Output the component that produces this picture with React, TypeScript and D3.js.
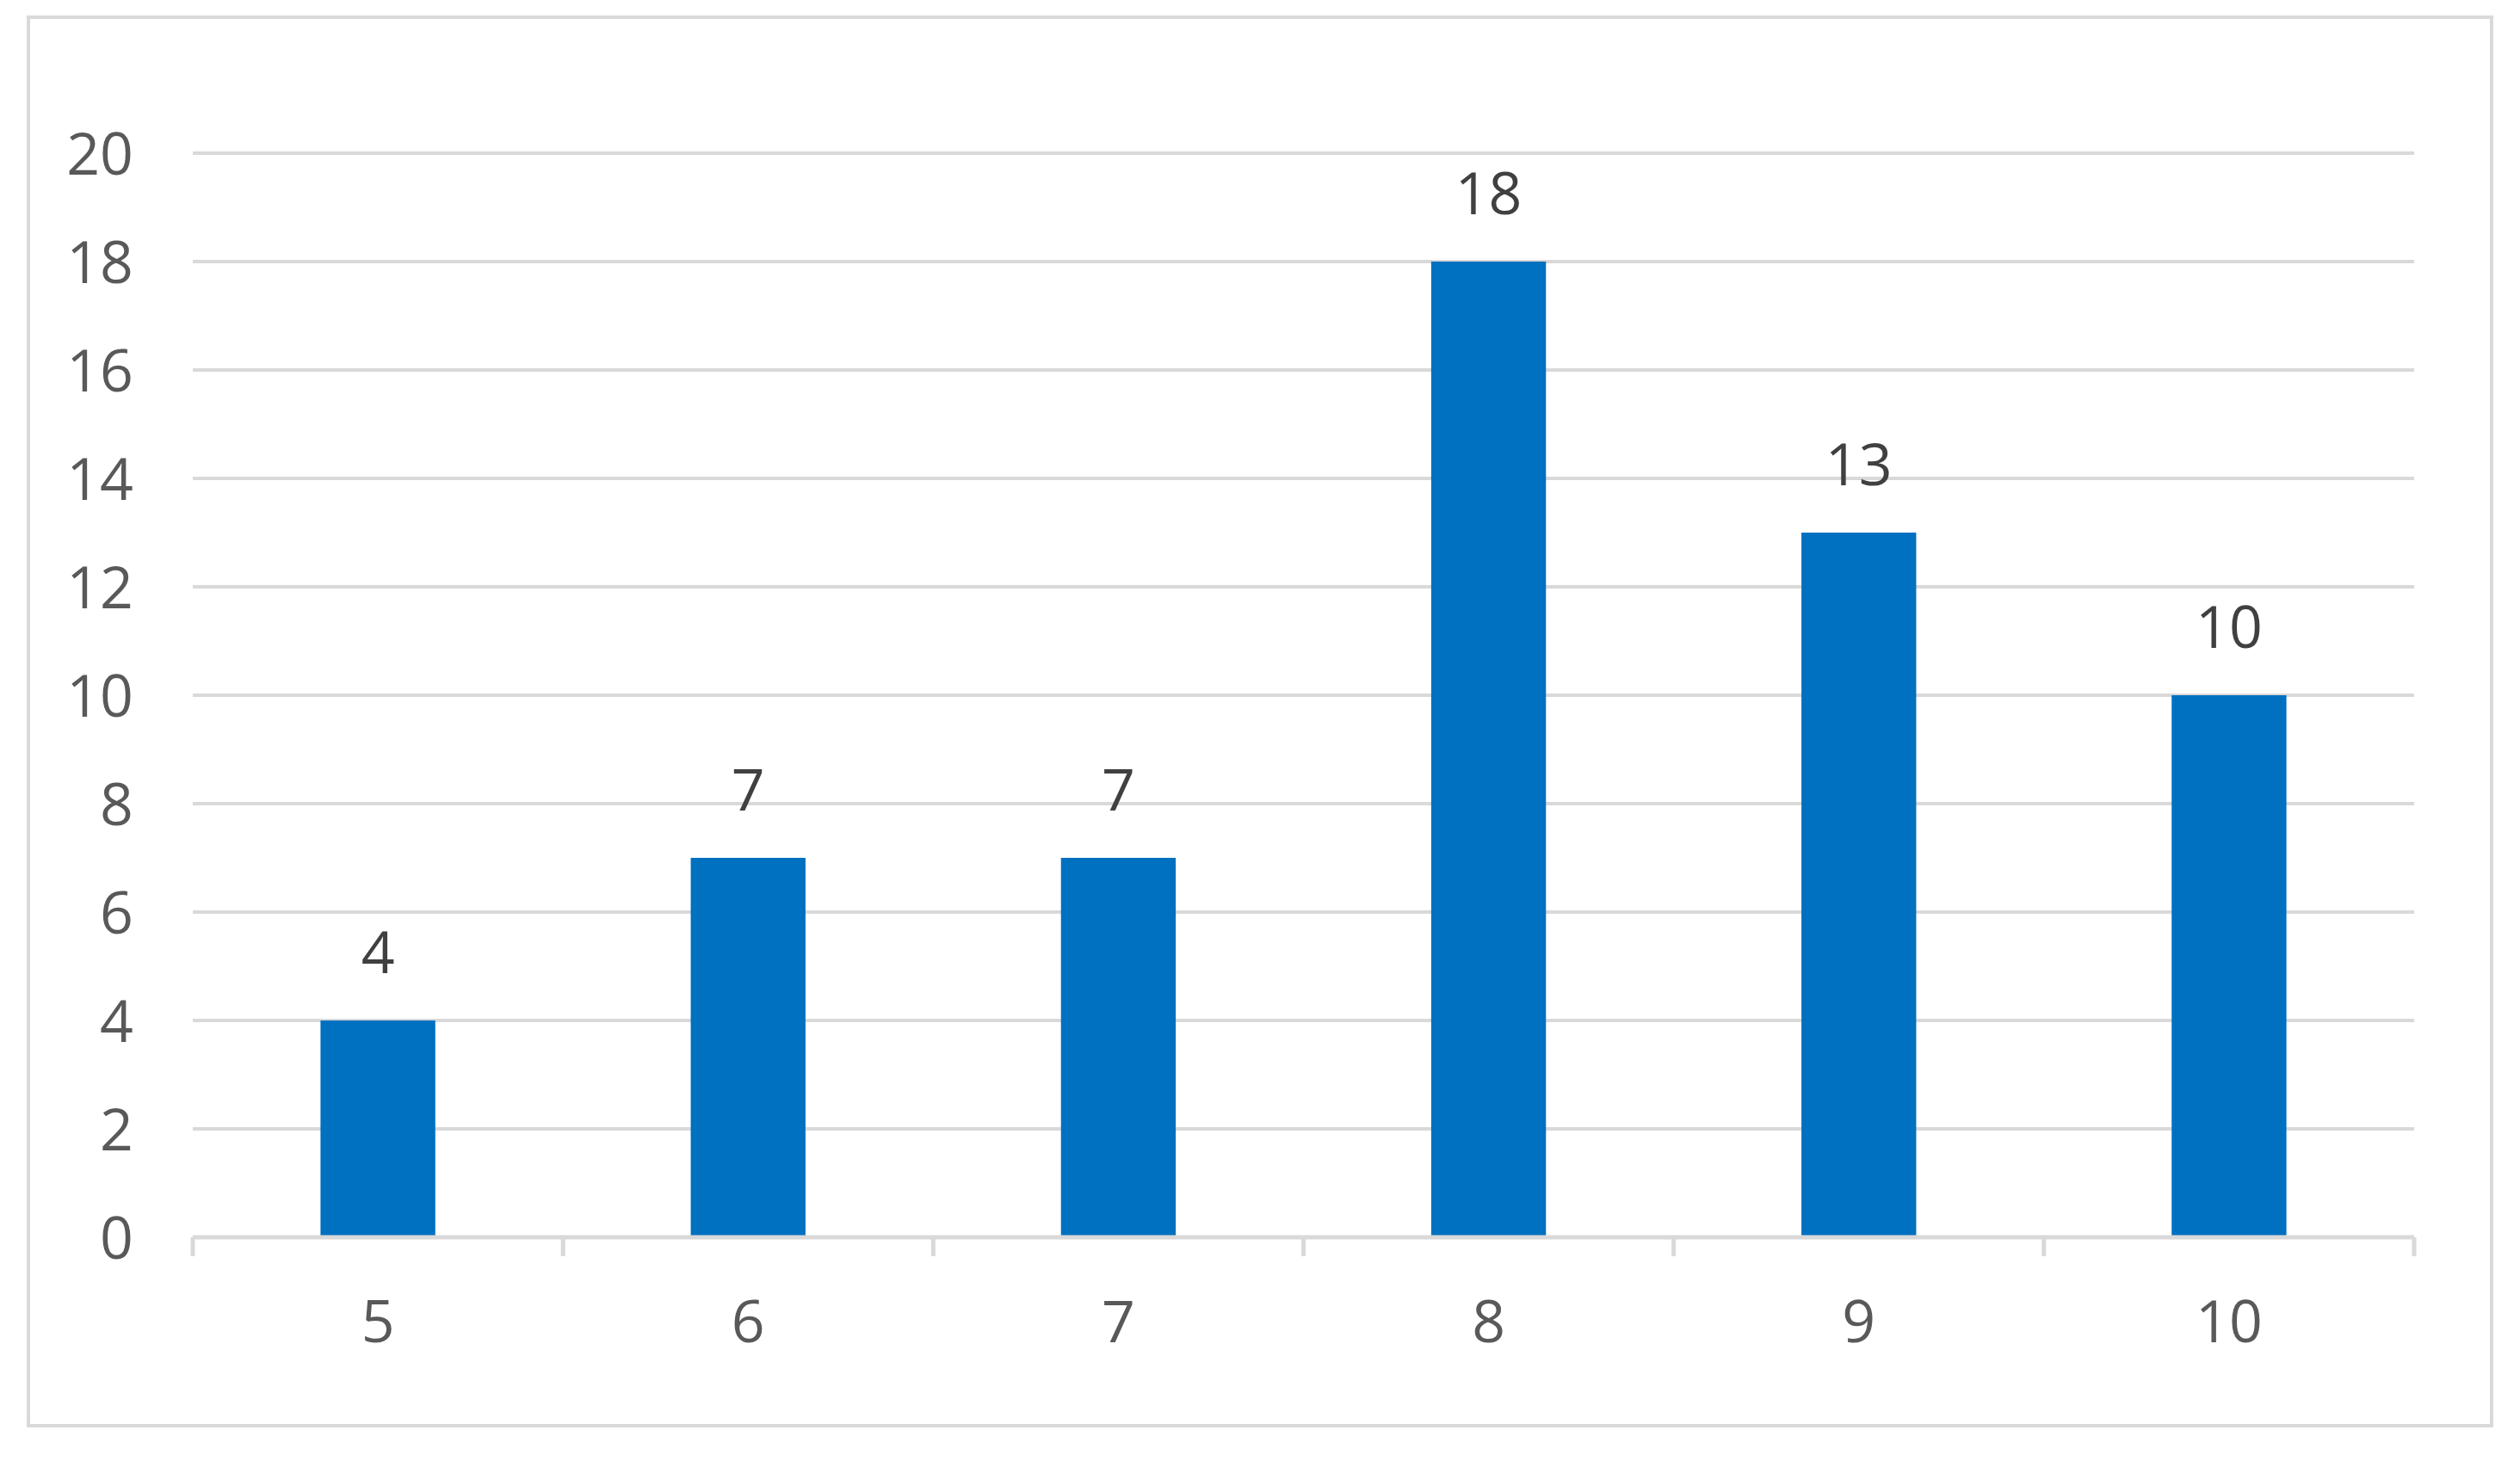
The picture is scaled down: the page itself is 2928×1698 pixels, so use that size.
import React from "react";
import * as d3 from "d3";

const categories = ["5", "6", "7", "8", "9", "10"];
const values = [4, 7, 7, 18, 13, 10];
const yTicks = [0, 2, 4, 6, 8, 10, 12, 14, 16, 18, 20];

const W = 2928;
const H = 1698;
const plotLeft = 224;
const plotRight = 2805;
const plotTop = 178;
const plotBottom = 1438;
const FONT = "'Open Sans', 'Noto Sans', sans-serif";

export default function App() {
  const x = d3
    .scaleBand<string>()
    .domain(categories)
    .range([plotLeft, plotRight])
    .paddingInner(0)
    .paddingOuter(0);
  const y = d3.scaleLinear().domain([0, 20]).range([plotBottom, plotTop]);
  const barW = x.bandwidth() * 0.31;
  const tickXs = [...categories.map((c) => x(c) as number), plotRight];

  return (
    <svg
      width={W}
      height={H}
      style={{ position: "absolute", left: 0, top: 0, background: "#fff" }}
    >
      <rect x={0} y={0} width={W} height={H} fill="#fff" />
      <rect
        x={33}
        y={20}
        width={2862}
        height={1637}
        fill="#fff"
        stroke="#d9d9d9"
        strokeWidth={4}
      />
      {yTicks.map((t) => (
        <g key={t}>
          {t > 0 && (
            <line
              x1={plotLeft}
              x2={plotRight}
              y1={y(t)}
              y2={y(t)}
              stroke="#d9d9d9"
              strokeWidth={4}
            />
          )}
          <text
            x={155}
            y={y(t) + 25}
            textAnchor="end"
            fontFamily={FONT}
            fontSize={68}
            fill="#595959"
          >
            {t}
          </text>
        </g>
      ))}
      {categories.map((c, i) => {
        const cx = (x(c) as number) + x.bandwidth() / 2;
        return (
          <g key={c}>
            <rect
              x={cx - barW / 2}
              y={y(values[i])}
              width={barW}
              height={y(0) - y(values[i])}
              fill="#0070c0"
            />
            <text
              x={cx}
              y={y(values[i]) - 55}
              textAnchor="middle"
              fontFamily={FONT}
              fontSize={68}
              fill="#404040"
            >
              {values[i]}
            </text>
            <text
              x={cx}
              y={1560}
              textAnchor="middle"
              fontFamily={FONT}
              fontSize={68}
              fill="#595959"
            >
              {c}
            </text>
          </g>
        );
      })}
      <line
        x1={plotLeft}
        x2={plotRight}
        y1={y(0)}
        y2={y(0)}
        stroke="#d9d9d9"
        strokeWidth={5}
      />
      {tickXs.map((tx, i) => (
        <line
          key={i}
          x1={tx}
          x2={tx}
          y1={y(0)}
          y2={y(0) + 22}
          stroke="#d9d9d9"
          strokeWidth={5}
        />
      ))}
    </svg>
  );
}
